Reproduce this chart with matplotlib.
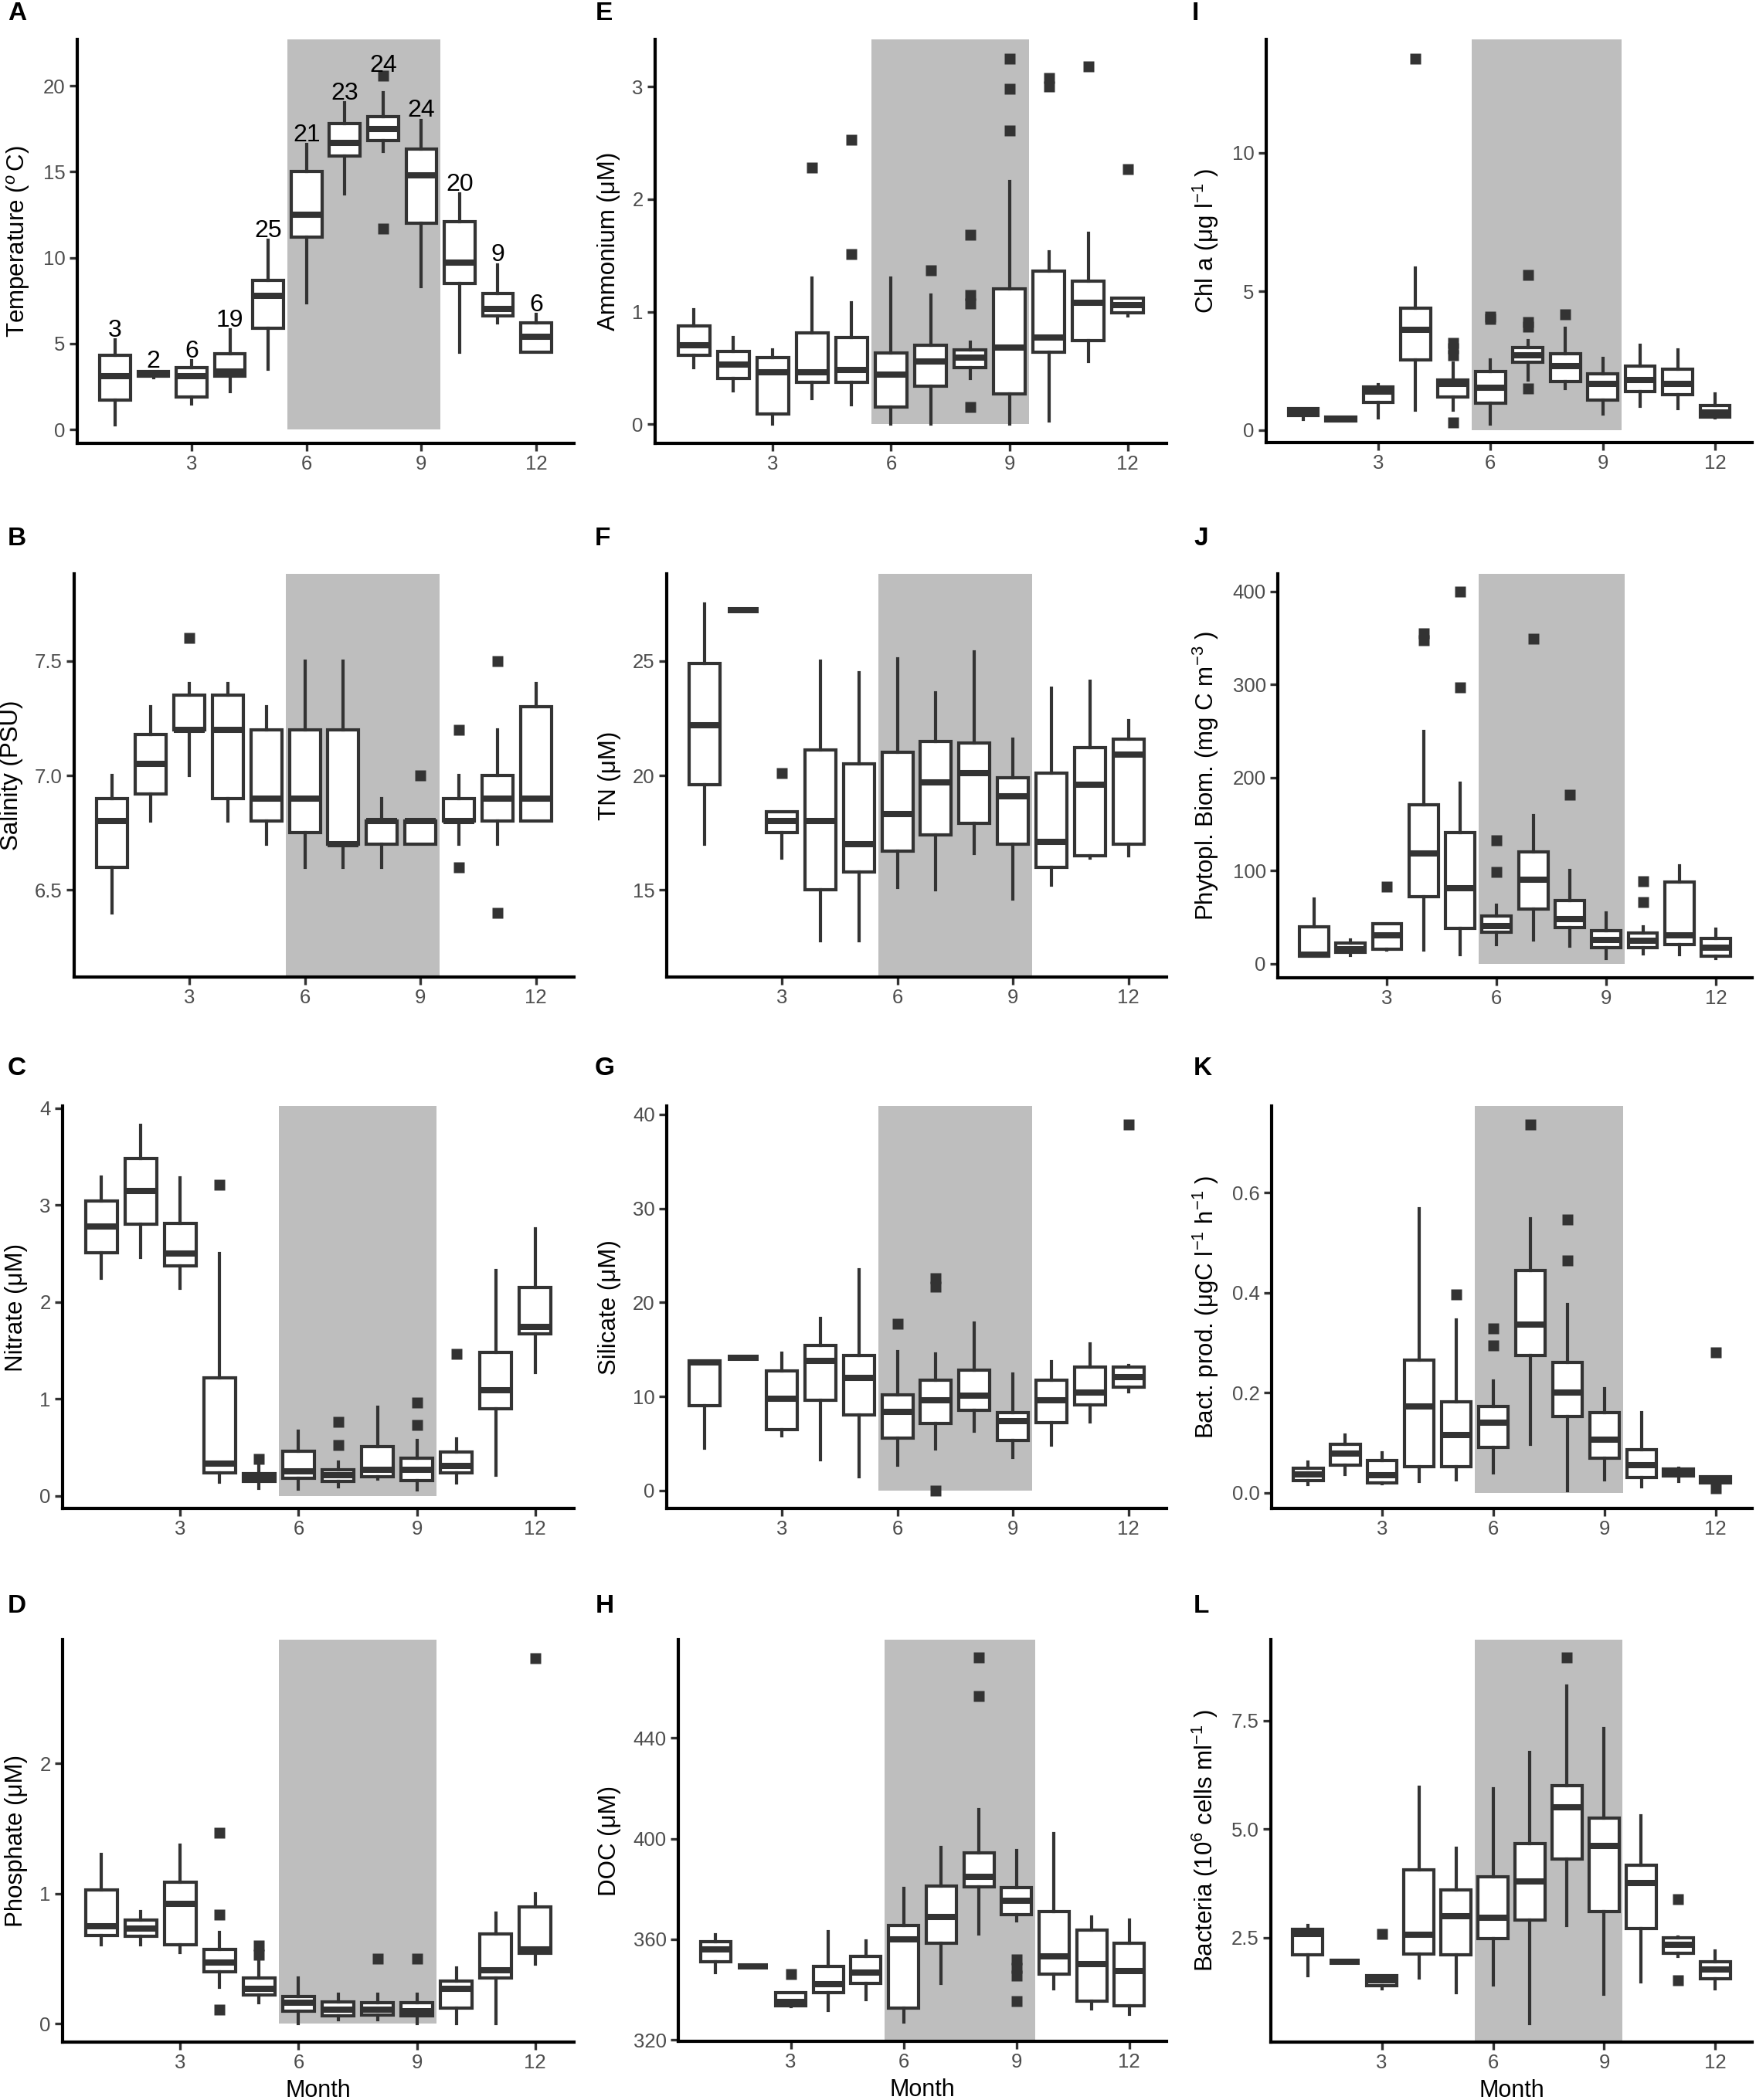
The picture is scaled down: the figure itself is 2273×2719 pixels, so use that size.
import matplotlib
matplotlib.use('Agg')
import matplotlib.pyplot as plt
from matplotlib.patches import Rectangle

plt.rcParams['font.family'] = ['Liberation Sans', 'DejaVu Sans']
plt.rcParams['mathtext.fontset'] = 'custom'
plt.rcParams['mathtext.rm'] = 'Liberation Sans'
plt.rcParams['mathtext.it'] = 'Liberation Sans:italic'
plt.rcParams['mathtext.bf'] = 'Liberation Sans:bold'

months = list(range(1, 13))

# A - temperature
temp_lo = [0.3, 3.0, 1.5, 2.2, 3.5, 7.4, 13.7, 16.2, 8.3, 4.5, 6.2, 4.5]
temp_q1 = [1.7, 3.1, 1.9, 3.1, 5.9, 11.2, 15.9, 16.8, 12.0, 8.5, 6.6, 4.5]
temp_med = [3.1, 3.2, 3.1, 3.4, 7.8, 12.5, 16.7, 17.5, 14.8, 9.7, 7.0, 5.4]
temp_q3 = [4.3, 3.4, 3.6, 4.4, 8.7, 15.0, 17.8, 18.2, 16.3, 12.1, 7.9, 6.2]
temp_hi = [5.2, 3.4, 4.0, 5.8, 11.0, 16.6, 19.0, 19.6, 18.0, 13.7, 9.6, 6.7]
temp_out = [[], [], [], [], [], [], [], [20.6, 11.7], [], [], [], []]
temp_n = [3, 2, 6, 19, 25, 21, 23, 24, 24, 20, 9, 6]

# B - salinity
sal_lo = [6.4, 6.8, 7.0, 6.8, 6.7, 6.6, 6.6, 6.6, 6.7, 6.7, 6.7, 6.8]
sal_q1 = [6.6, 6.92, 7.2, 6.9, 6.8, 6.75, 6.7, 6.7, 6.7, 6.8, 6.8, 6.8]
sal_med = [6.8, 7.05, 7.2, 7.2, 6.9, 6.9, 6.7, 6.8, 6.8, 6.8, 6.9, 6.9]
sal_q3 = [6.9, 7.18, 7.35, 7.35, 7.2, 7.2, 7.2, 6.8, 6.8, 6.9, 7.0, 7.3]
sal_hi = [7.0, 7.3, 7.4, 7.4, 7.3, 7.5, 7.5, 6.9, 6.8, 7.0, 7.2, 7.4]
sal_out = [[], [], [7.6], [], [], [], [], [], [7.0], [7.2, 6.6], [7.5, 6.4], []]

# C - nitrate
no3_lo = [2.24, 2.46, 2.14, 0.14, 0.08, 0.07, 0.09, 0.17, 0.06, 0.13, 0.21, 1.27]
no3_q1 = [2.51, 2.80, 2.37, 0.24, 0.15, 0.18, 0.15, 0.20, 0.16, 0.24, 0.90, 1.67]
no3_med = [2.78, 3.14, 2.50, 0.33, 0.20, 0.25, 0.21, 0.27, 0.27, 0.31, 1.09, 1.74]
no3_q3 = [3.04, 3.48, 2.81, 1.22, 0.23, 0.46, 0.27, 0.51, 0.39, 0.45, 1.48, 2.15]
no3_hi = [3.29, 3.82, 3.28, 2.50, 0.32, 0.67, 0.35, 0.91, 0.57, 0.59, 2.32, 2.75]
no3_out = [[], [], [], [3.21], [0.38], [], [0.76, 0.52], [], [0.96, 0.73], [1.46], [], []]

# D - phosphate
po4_lo = [0.61, 0.61, 0.55, 0.28, 0.16, 0.0, 0.03, 0.03, 0.0, 0.0, 0.0, 0.46]
po4_q1 = [0.68, 0.67, 0.61, 0.40, 0.22, 0.10, 0.06, 0.07, 0.06, 0.12, 0.35, 0.54]
po4_med = [0.75, 0.73, 0.92, 0.47, 0.27, 0.16, 0.11, 0.11, 0.10, 0.27, 0.41, 0.57]
po4_q3 = [1.03, 0.80, 1.09, 0.57, 0.35, 0.21, 0.17, 0.16, 0.16, 0.33, 0.69, 0.90]
po4_hi = [1.30, 0.86, 1.37, 0.70, 0.49, 0.35, 0.23, 0.23, 0.23, 0.43, 0.85, 1.00]
po4_out = [[], [], [], [1.47, 0.84, 0.11], [0.60, 0.53], [], [], [0.50], [0.50], [], [], [2.81]]

# E - ammonium
nh4_lo = [0.50, 0.30, 0.0, 0.23, 0.17, 0.0, 0.0, 0.41, 0.0, 0.03, 0.56, 0.96]
nh4_q1 = [0.61, 0.41, 0.09, 0.37, 0.37, 0.15, 0.34, 0.50, 0.27, 0.64, 0.74, 0.99]
nh4_med = [0.70, 0.53, 0.46, 0.46, 0.48, 0.44, 0.56, 0.59, 0.68, 0.77, 1.08, 1.06]
nh4_q3 = [0.87, 0.65, 0.59, 0.81, 0.77, 0.63, 0.70, 0.66, 1.20, 1.36, 1.27, 1.12]
nh4_hi = [1.02, 0.77, 0.66, 1.30, 1.08, 1.30, 1.15, 0.73, 2.16, 1.53, 1.70, 1.12]
nh4_out = [[], [], [], [2.28], [2.53, 1.51], [], [1.37], [1.68, 1.15, 1.07, 0.15],
           [3.25, 2.98, 2.61], [3.08, 3.0], [3.18], [2.27]]

# F - total nitrogen
tn_lo = [17.0, 27.2, 16.4, 12.8, 12.8, 15.1, 15.0, 16.6, 14.6, 15.2, 16.4, 16.5]
tn_q1 = [19.6, 27.2, 17.5, 15.0, 15.8, 16.7, 17.4, 17.9, 17.0, 16.0, 16.5, 17.0]
tn_med = [22.2, 27.2, 18.0, 18.0, 17.0, 18.3, 19.7, 20.1, 19.1, 17.1, 19.6, 20.9]
tn_q3 = [24.9, 27.2, 18.4, 21.1, 20.5, 21.0, 21.5, 21.4, 19.9, 20.1, 21.2, 21.6]
tn_hi = [27.5, 27.2, 18.4, 25.0, 24.5, 25.1, 23.6, 25.4, 21.6, 23.8, 24.1, 22.4]
tn_out = [[], [], [20.1], [], [], [], [], [], [], [], [], []]

# G - silicate
si_lo = [4.5, 14.1, 5.8, 3.3, 1.5, 2.7, 4.4, 6.3, 3.5, 4.8, 7.3, 10.5]
si_q1 = [9.0, 14.1, 6.5, 9.6, 8.0, 5.6, 7.1, 8.5, 5.3, 7.2, 9.1, 11.0]
si_med = [13.6, 14.1, 9.8, 13.8, 12.0, 8.4, 9.6, 10.1, 7.4, 9.6, 10.4, 12.1]
si_q3 = [13.8, 14.1, 12.7, 15.4, 14.4, 10.2, 11.7, 12.8, 8.3, 11.7, 13.1, 13.1]
si_hi = [13.8, 14.1, 14.6, 18.3, 23.5, 14.8, 14.5, 17.8, 12.4, 13.7, 15.6, 13.3]
si_out = [[], [], [], [], [], [17.7], [22.6, 21.7, 0.0], [], [], [], [], [38.9]]

# H - DOC
doc_lo = [346.8, 349.4, 333.3, 331.7, 336.1, 327.1, 342.6, 362.1, 367.5, 340.4, 332.4, 330.1]
doc_q1 = [351.1, 349.4, 333.7, 338.7, 342.6, 332.6, 358.5, 380.8, 369.7, 346.2, 335.6, 333.7]
doc_med = [356.1, 349.4, 335.2, 342.1, 346.8, 360.0, 368.8, 384.9, 375.2, 353.3, 350.1, 347.5]
doc_q3 = [359.1, 349.4, 338.7, 349.2, 353.3, 365.5, 381.3, 394.3, 380.4, 371.1, 363.6, 358.5]
doc_hi = [361.9, 349.4, 338.7, 363.2, 359.5, 380.1, 396.5, 411.4, 395.2, 402.1, 368.8, 367.7]
doc_out = [[], [], [346.2], [], [], [], [], [472.0, 456.5],
           [352.0, 348.5, 345.5, 335.6], [], [], []]

# I - chlorophyll a
chl_lo = [0.38, 0.32, 0.44, 0.70, 0.72, 0.21, 1.81, 1.50, 0.57, 0.84, 0.78, 0.44]
chl_q1 = [0.53, 0.32, 0.99, 2.53, 1.18, 0.95, 2.44, 1.75, 1.07, 1.39, 1.26, 0.46]
chl_med = [0.64, 0.39, 1.37, 3.61, 1.67, 1.52, 2.70, 2.29, 1.67, 1.79, 1.66, 0.63]
chl_q3 = [0.78, 0.46, 1.56, 4.39, 1.81, 2.12, 2.98, 2.75, 2.02, 2.30, 2.19, 0.87]
chl_hi = [0.78, 0.46, 1.64, 5.85, 2.41, 2.53, 3.22, 3.68, 2.58, 3.05, 2.90, 1.29]
chl_out = [[], [], [], [13.4], [3.15, 2.95, 2.7, 0.26], [4.1, 4.0], [5.6, 3.9, 3.72, 1.49],
           [4.18], [], [], [], []]

# J - phytoplankton biomass
phy_lo = [8, 9, 15, 15, 10, 21, 26, 19, 6, 11, 10, 6]
phy_q1 = [8, 12, 16, 72, 38, 34, 59, 39, 17, 17, 21, 8]
phy_med = [10, 16, 31, 119, 81, 41, 90, 48, 26, 25, 31, 17]
phy_q3 = [40, 22, 43, 171, 141, 51, 120, 68, 36, 33, 88, 27]
phy_hi = [70, 26, 43, 250, 194, 63, 159, 100, 55, 40, 105, 37]
phy_out = [[], [], [83], [355, 348], [400, 297], [133, 99], [349], [182], [], [89, 66], [], []]

# K - bacterial production
bp_lo = [0.017, 0.037, 0.018, 0.023, 0.026, 0.040, 0.097, 0.005, 0.026, 0.012, 0.023, 0.020]
bp_q1 = [0.025, 0.055, 0.020, 0.053, 0.052, 0.091, 0.274, 0.153, 0.069, 0.031, 0.034, 0.020]
bp_med = [0.037, 0.078, 0.035, 0.173, 0.115, 0.141, 0.337, 0.201, 0.106, 0.056, 0.041, 0.026]
bp_q3 = [0.050, 0.097, 0.064, 0.265, 0.182, 0.173, 0.444, 0.261, 0.160, 0.087, 0.047, 0.032]
bp_hi = [0.061, 0.115, 0.080, 0.568, 0.346, 0.224, 0.548, 0.377, 0.208, 0.160, 0.049, 0.032]
bp_out = [[], [], [], [], [0.397], [0.328, 0.294], [0.736], [0.546, 0.464], [], [], [], [0.280, 0.009]]

# L - bacterial abundance
bac_lo = [1.62, 1.94, 1.32, 1.58, 1.23, 1.41, 0.53, 2.78, 1.20, 1.49, 2.07, 1.32]
bac_q1 = [2.10, 1.94, 1.39, 2.13, 2.11, 2.48, 2.90, 4.31, 3.11, 2.72, 2.15, 1.55]
bac_med = [2.59, 1.94, 1.53, 2.57, 2.99, 2.96, 3.79, 5.50, 4.62, 3.77, 2.34, 1.77]
bac_q3 = [2.69, 1.94, 1.62, 4.07, 3.61, 3.90, 4.67, 6.00, 5.26, 4.17, 2.50, 1.95]
bac_hi = [2.78, 1.94, 1.62, 5.96, 4.56, 5.93, 6.76, 8.29, 7.31, 5.31, 2.52, 2.19]
bac_out = [[], [], [2.59], [], [], [], [], [8.95], [], [], [3.38, 1.53], []]

W, H = 2273, 2719
LINE = '#333333'

panels = [
    # letter, data, ylabel, ylim, yticks, yticklabels, (left, top, right, bottom) px, letter pos
    ('A', (temp_lo, temp_q1, temp_med, temp_q3, temp_hi, temp_out), r'Temperature ($^{o}\,$C)',
     (-0.8, 22.7), [0, 5, 10, 15, 20], None, (100, 51, 743, 574), (22, 18)),
    ('B', (sal_lo, sal_q1, sal_med, sal_q3, sal_hi, sal_out), 'Salinity (PSU)',
     (6.12, 7.88), [6.5, 7.0, 7.5], ['6.5', '7.0', '7.5'], (96, 743, 743, 1265), (22, 697)),
    ('C', (no3_lo, no3_q1, no3_med, no3_q3, no3_hi, no3_out), 'Nitrate (μM)',
     (-0.13, 4.02), [0, 1, 2, 3, 4], None, (81, 1432, 743, 1953), (22, 1384)),
    ('D', (po4_lo, po4_q1, po4_med, po4_q3, po4_hi, po4_out), 'Phosphate (μM)',
     (-0.14, 2.95), [0, 1, 2], None, (81, 2123, 743, 2644), (22, 2079)),
    ('E', (nh4_lo, nh4_q1, nh4_med, nh4_q3, nh4_hi, nh4_out), 'Ammonium (μM)',
     (-0.17, 3.42), [0, 1, 2, 3], None, (848, 51, 1510, 574), (782, 18)),
    ('F', (tn_lo, tn_q1, tn_med, tn_q3, tn_hi, tn_out), 'TN (μM)',
     (11.2, 28.8), [15, 20, 25], None, (863, 743, 1510, 1265), (780, 697)),
    ('G', (si_lo, si_q1, si_med, si_q3, si_hi, si_out), 'Silicate (μM)',
     (-1.9, 40.9), [0, 10, 20, 30, 40], None, (863, 1432, 1510, 1953), (783, 1384)),
    ('H', (doc_lo, doc_q1, doc_med, doc_q3, doc_hi, doc_out), 'DOC (μM)',
     (319.5, 479.0), [320, 360, 400, 440], None, (878, 2123, 1510, 2643), (783, 2079)),
    ('I', (chl_lo, chl_q1, chl_med, chl_q3, chl_hi, chl_out), r'Chl a (μg l$^{-1}$ )',
     (-0.46, 14.1), [0, 5, 10], None, (1639, 51, 2268, 573), (1547, 18)),
    ('J', (phy_lo, phy_q1, phy_med, phy_q3, phy_hi, phy_out), r'Phytopl. Biom. (mg C m$^{-3}$ )',
     (-15, 419), [0, 100, 200, 300, 400], None, (1654, 743, 2268, 1266), (1555, 697)),
    ('K', (bp_lo, bp_q1, bp_med, bp_q3, bp_hi, bp_out), r'Bact. prod. (μgC l$^{-1}$ h$^{-1}$ )',
     (-0.031, 0.773), [0.0, 0.2, 0.4, 0.6], ['0.0', '0.2', '0.4', '0.6'], (1646, 1432, 2268, 1953), (1557, 1384)),
    ('L', (bac_lo, bac_q1, bac_med, bac_q3, bac_hi, bac_out), r'Bacteria (10$^{6}$ cells ml$^{-1}$ )',
     (0.1, 9.36), [2.5, 5.0, 7.5], ['2.5', '5.0', '7.5'], (1645, 2123, 2268, 2644), (1555, 2079)),
]


def draw_panel(ax, data, ylim, yticks, yticklabels, ylabel):
    lo, q1, med, q3, hi, out = data
    # summer shading, June-September
    y0 = max(0, ylim[0])
    ax.add_patch(Rectangle((5.5, y0), 4.0, ylim[1] - y0, facecolor='#BEBEBE',
                           edgecolor='none', zorder=0))
    stats = []
    for i in range(len(months)):
        stats.append(dict(whislo=lo[i], q1=q1[i], med=med[i], q3=q3[i],
                          whishi=hi[i], fliers=out[i]))
    ax.bxp(stats, positions=months, widths=0.8, patch_artist=True, showcaps=False,
           manage_ticks=False,
           boxprops=dict(facecolor='white', edgecolor=LINE, linewidth=3.0),
           whiskerprops=dict(color=LINE, linewidth=3.0),
           medianprops=dict(color=LINE, linewidth=5.8, solid_capstyle='butt'),
           flierprops=dict(marker='s', markerfacecolor=LINE, markeredgecolor='none',
                           markersize=10.5),
           zorder=2)
    ax.set_xlim(0.01, 12.99)
    ax.set_ylim(*ylim)
    ax.set_xticks([3, 6, 9, 12])
    ax.set_yticks(yticks)
    if yticklabels is not None:
        ax.set_yticklabels(yticklabels)
    ax.set_ylabel(ylabel, fontsize=22.5, labelpad=11)
    for s in ['top', 'right']:
        ax.spines[s].set_visible(False)
    for s in ['left', 'bottom']:
        ax.spines[s].set_linewidth(3.0)
        ax.spines[s].set_color('black')
    ax.tick_params(direction='out', length=7, width=2.4, color=LINE,
                   labelcolor='#4D4D4D', labelsize=18.5, pad=4)


fig = plt.figure(figsize=(W / 100, H / 100), dpi=100)

for letter, data, ylabel, ylim, yticks, yticklabels, box, lpos in panels:
    left, top, right, bottom = box
    ax = fig.add_axes([left / W, 1 - bottom / H, (right - left) / W, (bottom - top) / H])
    draw_panel(ax, data, ylim, yticks, yticklabels, ylabel)
    fig.text(lpos[0] / W, 1 - lpos[1] / H, letter, fontsize=24, fontweight='bold',
             ha='center', va='center')
    if letter in ('D', 'H', 'L'):
        ax.set_xlabel('Month', fontsize=22, labelpad=6)
    if letter == 'A':
        # sample counts above each month
        for m, n, h, o in zip(months, temp_n, temp_hi, temp_out):
            top_val = max([h] + o)
            ax.text(m, top_val + 0.55, str(n), fontsize=23, ha='center', va='center',
                    color='black', zorder=3)

fig.savefig('out.png', dpi=100, facecolor='white')
